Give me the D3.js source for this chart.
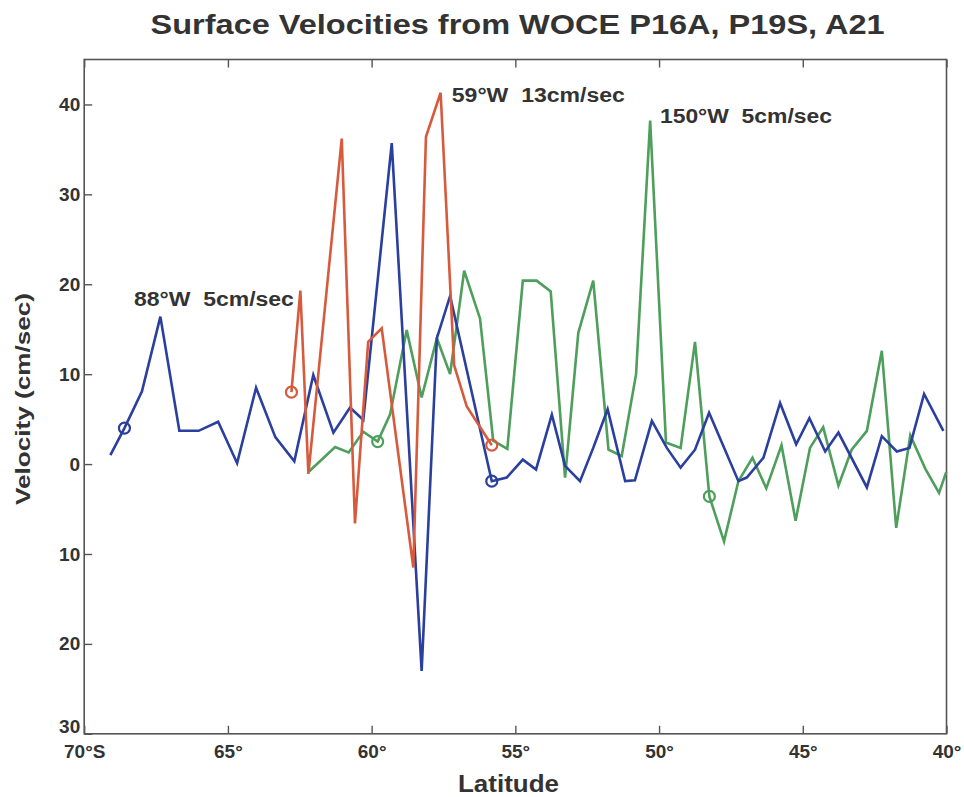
<!DOCTYPE html>
<html>
<head>
<meta charset="utf-8">
<script src="https://cdn.jsdelivr.net/npm/d3@7"></script>
<style>
  html, body { margin: 0; padding: 0; background: #ffffff; }
  svg text { font-family: "Liberation Sans", Arial, Helvetica, sans-serif; font-weight: bold; fill: #333333; white-space: pre; }
</style>
</head>
<body>
<svg id="chart" width="964" height="797"></svg>
<script>
// ---------------- data ----------------
const latTicks = [70, 65, 60, 55, 50, 45, 40];
const velTicks = [-30, -20, -10, 0, 10, 20, 30, 40];

// 88°W (blue)
const blueLat = [69.09,68.60,67.99,67.35,66.69,66.02,65.34,64.68,64.02,63.35,62.69,62.03,61.33,60.75,60.29,59.30,58.26,57.73,57.27,55.82,55.30,54.74,54.28,53.73,53.27,52.75,52.29,51.79,51.18,50.84,50.25,49.73,49.25,48.75,48.26,47.24,46.95,46.37,45.79,45.23,44.77,44.22,43.76,42.77,42.25,41.73,41.29,40.78,40.11];
const blueVel = [1.0,4.0,8.1,16.4,3.7,3.7,4.7,0.1,8.5,3.0,0.3,9.9,3.5,6.3,4.9,35.7,-23.0,14.0,18.7,-1.9,-1.5,0.5,-0.6,5.5,-0.2,-1.9,1.8,6.1,-1.9,-1.8,4.8,1.8,-0.4,1.6,5.7,-1.9,-1.5,0.7,6.8,2.2,5.1,1.4,3.5,-2.6,3.1,1.4,1.8,7.8,3.7];
const blueMarks = [1, 19];

// 59°W (red)
const redLat = [62.79,62.48,62.20,61.04,60.58,60.12,59.65,58.55,58.11,57.60,57.13,56.69,55.82];
const redVel = [8.0,19.3,-1.1,36.2,-6.6,13.6,15.1,-11.5,36.4,41.3,11.0,6.4,2.1];
const redMarks = [0, 12];

// 150°W (green)
const greenLat = [62.17,61.27,60.80,60.29,59.79,59.36,58.78,58.26,57.73,57.27,56.78,56.23,55.77,55.28,54.74,54.26,53.77,53.27,52.81,52.29,51.76,51.30,50.80,50.31,49.76,49.25,48.75,48.25,47.74,47.24,46.75,46.27,45.74,45.25,44.75,44.29,43.76,43.30,42.77,42.25,41.75,41.26,40.74,40.26,40.01];
const greenVel = [-0.8,1.9,1.3,3.6,2.5,5.5,14.9,7.4,14.0,10.0,21.5,16.2,2.6,1.7,20.4,20.4,19.2,-1.5,14.6,20.4,1.6,0.9,10.0,38.2,2.4,1.8,13.6,-3.6,-8.6,-1.9,0.7,-2.7,2.1,-6.3,1.8,4.1,-2.4,1.6,3.7,12.6,-7.1,3.2,-0.5,-3.2,-0.9];
const greenMarks = [4, 27];

const seriesNames = ["150°W", "88°W", "59°W"];
const annotText = ["88°W  5cm/sec", "59°W  13cm/sec", "150°W  5cm/sec"];
const annotLat = [68.27, 57.21, 49.97];
const annotVel = [17.6, 40.3, 37.9];

const titleText = "Surface Velocities from WOCE P16A, P19S, A21";
const xLabel = "Latitude";
const yLabel = "Velocity (cm/sec)";

// ---------------- layout ----------------
const L = 84.2, R = 946.5, T = 59.5, B = 733.8;
const svg = d3.select("#chart");

const x = d3.scaleLinear().domain([70, 40]).range([L, R]);
const y = d3.scaleLinear().domain([-30, 45]).range([B, T]);

const colors = { "150°W": "#4e9e5c", "88°W": "#2b3f9e", "59°W": "#d75a3c" };

// frame
svg.append("rect").attr("x", L).attr("y", T).attr("width", R - L).attr("height", B - T)
  .attr("fill", "none").attr("stroke", "#555").attr("stroke-width", 1.6);

// axes
const fmtLat = d => d === 70 ? "70°S" : d + "°";
const xAxis = svg.append("g").attr("transform", `translate(0,${B})`)
  .call(d3.axisBottom(x).tickValues(latTicks).tickSize(-8).tickPadding(11).tickFormat(fmtLat));
const xTop = svg.append("g").attr("transform", `translate(0,${T})`)
  .call(d3.axisTop(x).tickValues(latTicks).tickSize(-8).tickFormat(""));
const yAxis = svg.append("g").attr("transform", `translate(${L},0)`)
  .call(d3.axisLeft(y).tickValues(velTicks).tickSize(-8).tickPadding(4).tickFormat(d => Math.abs(d)));

[xAxis, xTop, yAxis].forEach(g => {
  g.select(".domain").remove();
  g.selectAll(".tick line").attr("stroke", "#555").attr("stroke-width", 1.4);
  g.selectAll("text").attr("font-size", 19).attr("fill", "#333")
    .style("font-family", '"Liberation Sans", Arial, sans-serif').style("font-weight", "bold");
});
// lift the lowest velocity label slightly so it clears the latitude labels
yAxis.selectAll(".tick").filter(d => d === -30).select("text").attr("dy", "-0.05em");

// lines
const series = [
  { name: "150°W", lat: greenLat, vel: greenVel, marks: greenMarks },
  { name: "88°W", lat: blueLat, vel: blueVel, marks: blueMarks },
  { name: "59°W", lat: redLat, vel: redVel, marks: redMarks }
];
const line = d3.line().x(d => x(d[0])).y(d => y(d[1]));

series.forEach(s => {
  const pts = s.lat.map((la, i) => [la, s.vel[i]]);
  svg.append("path").datum(pts).attr("d", line)
    .attr("fill", "none").attr("stroke", colors[s.name]).attr("stroke-width", 2.6)
    .attr("stroke-linejoin", "miter");
  svg.selectAll(null).data(s.marks.map(i => pts[i])).enter().append("circle")
    .attr("cx", d => x(d[0])).attr("cy", d => y(d[1])).attr("r", 5.5)
    .attr("fill", "none").attr("stroke", colors[s.name]).attr("stroke-width", 2.2);
});

// annotations
const annotWidths = [160, 173, 172];
annotText.forEach((t, i) => {
  svg.append("text").attr("x", x(annotLat[i])).attr("y", y(annotVel[i]))
    .attr("font-size", 20).attr("textLength", annotWidths[i]).attr("lengthAdjust", "spacingAndGlyphs")
    .text(t);
});

// title & axis labels
svg.append("text").attr("x", 150.6).attr("y", 34).attr("font-size", 28)
  .attr("textLength", 734).attr("lengthAdjust", "spacingAndGlyphs").text(titleText);
svg.append("text").attr("x", 458).attr("y", 792).attr("font-size", 23)
  .attr("textLength", 101).attr("lengthAdjust", "spacingAndGlyphs").text(xLabel);
svg.append("text").attr("transform", `translate(30,${505}) rotate(-90)`)
  .attr("font-size", 21).attr("textLength", 212).attr("lengthAdjust", "spacingAndGlyphs").text(yLabel);
</script>
</body>
</html>
